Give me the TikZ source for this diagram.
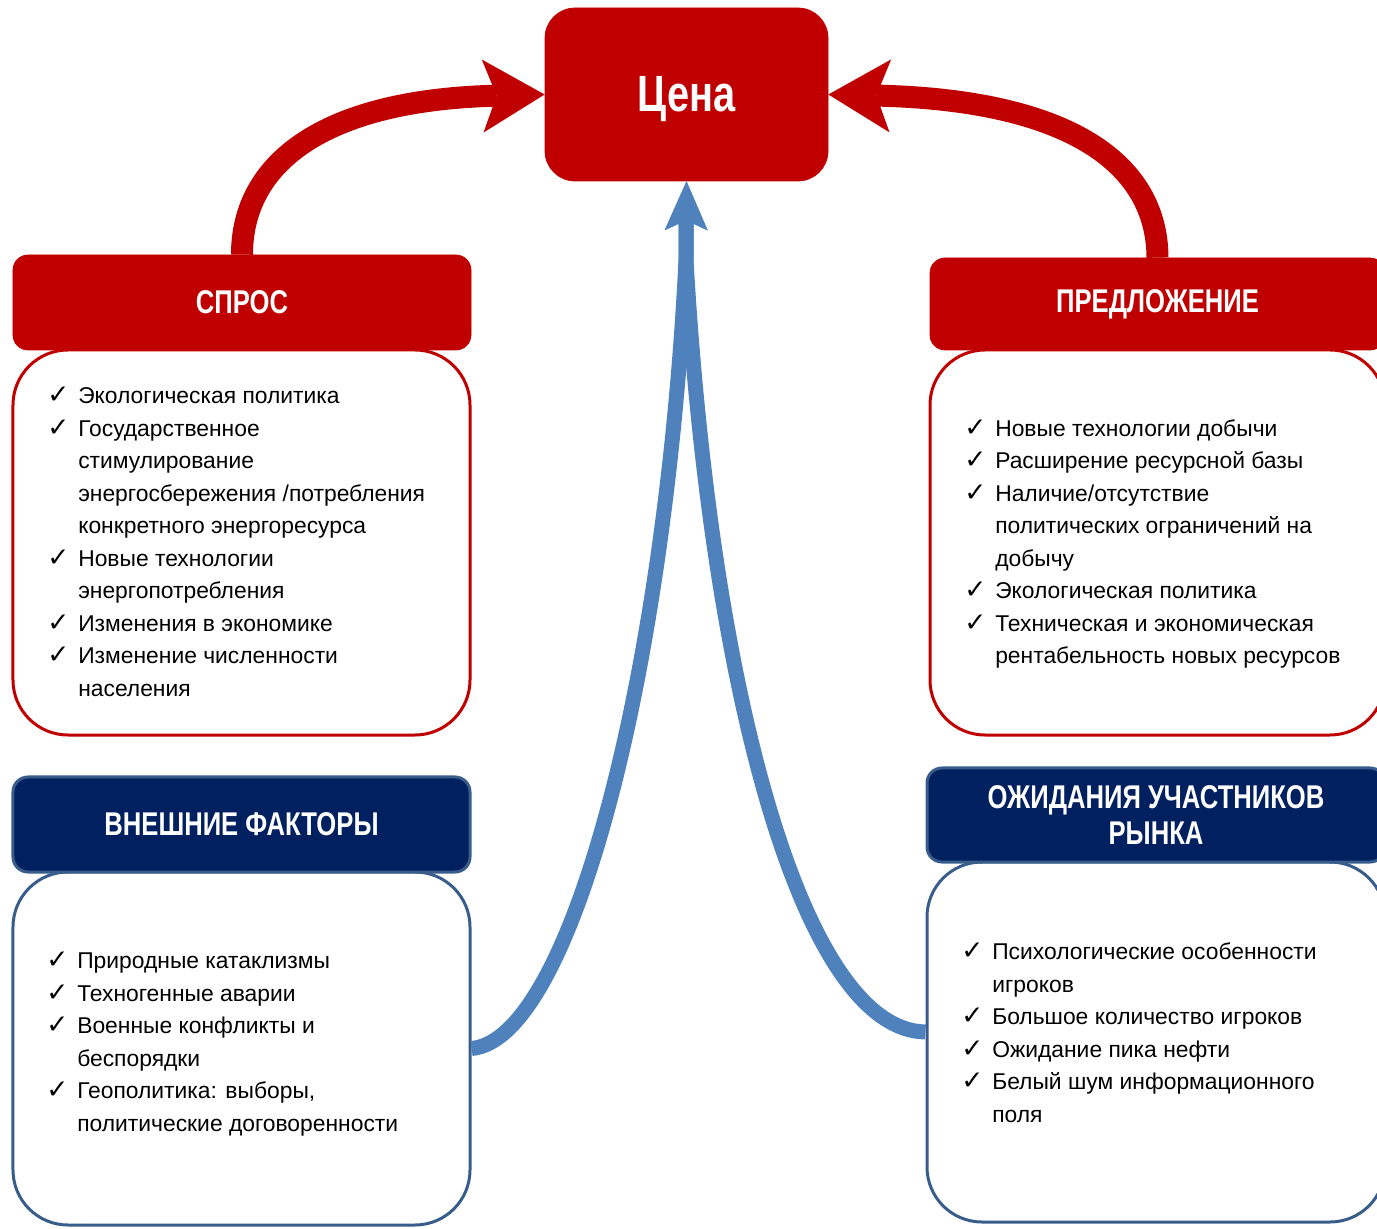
\documentclass[tikz,border=0pt]{standalone}
\usepackage{fontspec}
\setmainfont{Liberation Sans}
\newfontfamily\headfont[FakeStretch=0.78]{Liberation Sans}
\newfontfamily\symfont{DejaVu Sans}
\usetikzlibrary{arrows.meta}
\definecolor{cenared}{HTML}{C00000}
\definecolor{navy}{HTML}{002060}
\definecolor{navyline}{HTML}{385D8A}
\definecolor{arrowblue}{HTML}{4F81BD}
\newcommand\ok{\makebox[17.6pt][l]{\symfont\fontsize{15}{18.5}\selectfont ✓}}
\begin{document}
\begin{tikzpicture}[x=0.2mm,y=-0.2mm,line join=round,
	redhead/.style={fill=cenared,draw=cenared,rounded corners=3mm,text=white,align=center,
		font=\headfont\bfseries\fontsize{18.7}{20.4}\selectfont,minimum width=91.6mm,minimum height=19mm},
	bluehead/.style={redhead,fill=navy,draw=navyline,line width=0.6mm},
	redbody/.style={draw=cenared,fill=white,line width=0.6mm,rounded corners=11mm,minimum width=91.4mm},
	bluebody/.style={redbody,draw=navyline},
	items/.style={anchor=west,inner sep=0pt,font=\fontsize{13}{18.5}\selectfont},
	redarrow/.style={draw=cenared,line width=4.4mm,-{Stealth[length=12.4mm,width=14.6mm,inset=2.8mm,line width=0pt]}},
	bluearrow/.style={draw=arrowblue,line width=3mm,-{Stealth[length=9.8mm,width=8.6mm,inset=2mm,line width=0pt]}}]
	\useasboundingbox (0,0) rectangle (1377,1229);
	\begin{scope}
	\clip (0,0) rectangle (1377,1229);
	% тела блоков
	\node[redbody,minimum height=77mm] (sprb) at (241.5,542.5) {};
	\node[redbody,minimum width=91mm,minimum height=77mm] (predb) at (1157.5,542.5) {};
	\node[bluebody,minimum height=70.6mm] (vnb) at (241.5,1048.5) {};
	\node[bluebody,minimum width=91.6mm,minimum height=72mm] (ozb) at (1156,1042) {};
	% заголовки
	\node[redhead] (sprh) at (242,302.5) {СПРОС};
	\node[redhead,minimum width=91mm,minimum height=18.4mm] (predh) at (1157.5,304) {ПРЕДЛОЖЕНИЕ};
	\node[bluehead,minimum width=91.4mm] (vnh) at (241.5,824.5) {ВНЕШНИЕ ФАКТОРЫ};
	\node[bluehead,minimum height=18.8mm] (ozh) at (1156,815) {ОЖИДАНИЯ УЧАСТНИКОВ\\РЫНКА};
	\node[redhead,minimum width=56.6mm,minimum height=34.6mm,rounded corners=6mm,
		font=\headfont\bfseries\fontsize{29}{30}\selectfont] (cena) at (686.5,94.5) {\raisebox{-3.5mm}[0pt][0pt]{Цена}};
	% списки
	\node[items] (sprt) at (47,543.5) {\begin{tabular}{@{}l@{}l@{}}
		\ok & Экологическая политика\\
		\ok & Государственное\\
		& стимулирование\\
		& энергосбережения /потребления\\
		& конкретного энергоресурса\\
		\ok & Новые технологии\\
		& энергопотребления\\
		\ok & Изменения  в экономике\\
		\ok & Изменение численности\\
		& населения
	\end{tabular}};
	\node[items] (predt) at (964,543.5) {\begin{tabular}{@{}l@{}l@{}}
		\ok & Новые технологии добычи\\
		\ok & Расширение ресурсной базы\\
		\ok & Наличие/отсутствие\\
		& политических  ограничений на\\
		& добычу\\
		\ok & Экологическая политика\\
		\ok & Техническая и экономическая\\
		& рентабельность новых ресурсов
	\end{tabular}};
	\node[items] (vnt) at (46,1043.5) {\begin{tabular}{@{}l@{}l@{}}
		\ok & Природные  катаклизмы\\
		\ok & Техногенные аварии\\
		\ok & Военные конфликты  и\\
		& беспорядки\\
		\ok & Геополитика: выборы,\\
		& политические  договоренности
	\end{tabular}};
	\node[items] (ozt) at (961,1034.5) {\begin{tabular}{@{}l@{}l@{}}
		\ok & Психологические особенности\\
		& игроков\\
		\ok & Большое количество игроков\\
		\ok & Ожидание пика нефти\\
		\ok & Белый шум информационного\\
		& поля
	\end{tabular}};
	% стрелки
	\coordinate (merge) at (686,260);
	\draw[redarrow] (sprh.north) .. controls (242,165) and (320,100) .. (cena.west);
	\draw[redarrow] (predh.north) .. controls (1157,165) and (1072,100) .. (cena.east);
	\draw[bluearrow] (vnb.east) .. controls (570,1040) and (665,680) .. (merge) -- (cena.south);
	\draw[bluearrow] ([yshift=2mm]ozb.west) .. controls (800,1030) and (710,680) .. (merge) -- (cena.south);
	\end{scope}
\end{tikzpicture}
\end{document}
